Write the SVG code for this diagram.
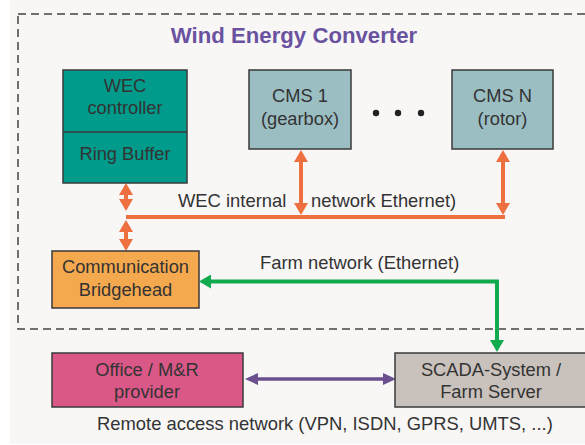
<svg xmlns="http://www.w3.org/2000/svg" width="585" height="445" viewBox="0 0 585 445">
<style>
.box{stroke:#3a3a3a;stroke-width:1.5}
.t{font-family:"Liberation Sans",Arial,sans-serif;font-size:18.3px;fill:#333;text-anchor:middle}
.lbl{font-family:"Liberation Sans",Arial,sans-serif;font-size:18.4px;fill:#333}
.or{stroke:#ee6f3f;stroke-width:4;fill:none}
.gr{stroke:#12aa4f;stroke-width:4;fill:none}
.pu{stroke:#6b4f8f;stroke-width:3.5;fill:none}
</style>
<defs>
<marker id="ao" markerUnits="userSpaceOnUse" markerWidth="14" markerHeight="14" refX="4" refY="7" orient="auto-start-reverse" viewBox="0 0 12 14"><path d="M0,0 L12,7 L0,14 z" fill="#ee6f3f"/></marker>
<marker id="ag" markerUnits="userSpaceOnUse" markerWidth="14" markerHeight="14" refX="4" refY="7" orient="auto-start-reverse" viewBox="0 0 12 14"><path d="M0,0 L12,7 L0,14 z" fill="#12aa4f"/></marker>
<marker id="ap" markerUnits="userSpaceOnUse" markerWidth="14" markerHeight="12" refX="5" refY="6" orient="auto-start-reverse" viewBox="0 0 13 12"><path d="M0,0 L13,6 L0,12 z" fill="#6b4f8f"/></marker>
</defs>
<rect x="10" y="0" width="575" height="444" fill="#f8f7f6"/>
<rect x="18" y="14" width="600" height="315" fill="none" stroke="#444" stroke-width="1.5" stroke-dasharray="8,5"/>
<text x="294" y="43" font-family="'Liberation Sans',Arial,sans-serif" font-size="22.2" font-weight="bold" fill="#6a52a0" text-anchor="middle">Wind Energy Converter</text>

<g id="connectors">
<line class="or" x1="126" y1="191" x2="126" y2="203" marker-start="url(#ao)" marker-end="url(#ao)"/>
<line class="or" x1="126" y1="228" x2="126" y2="243" marker-start="url(#ao)" marker-end="url(#ao)"/>
<line class="or" x1="126" y1="217" x2="505" y2="217"/>
<line class="or" x1="301" y1="158" x2="301" y2="207" marker-start="url(#ao)" marker-end="url(#ao)"/>
<line class="or" x1="503" y1="158" x2="503" y2="207" marker-start="url(#ao)" marker-end="url(#ao)"/>
<path class="gr" d="M207,281.5 H497 V344" marker-start="url(#ag)" marker-end="url(#ag)"/>
<line class="pu" x1="253" y1="379" x2="388" y2="379" marker-start="url(#ap)" marker-end="url(#ap)"/>
</g>

<text class="lbl" x="178" y="207">WEC internal</text>
<text class="lbl" x="311" y="207">network Ethernet)</text>
<text class="lbl" x="260" y="269">Farm network (Ethernet)</text>
<text class="lbl" x="97" y="430">Remote access network (VPN, ISDN, GPRS, UMTS, ...)</text>

<g id="wec">
<rect class="box" x="63" y="70" width="124" height="113" fill="#009b8b"/>
<line x1="63" y1="132" x2="187" y2="132" stroke="#3a3a3a" stroke-width="1.5"/>
<text class="t" x="125" y="92">WEC</text>
<text class="t" x="125" y="114">controller</text>
<text class="t" x="125" y="160">Ring Buffer</text>
</g>
<g id="cms1">
<rect class="box" x="249" y="70" width="102" height="79" fill="#9bbec3"/>
<text class="t" x="300" y="102">CMS 1</text>
<text class="t" x="300" y="125">(gearbox)</text>
</g>
<g id="dots" fill="#222">
<circle cx="376" cy="113" r="3.2"/>
<circle cx="398" cy="113" r="3.2"/>
<circle cx="421" cy="113" r="3.2"/>
</g>
<g id="cmsn">
<rect class="box" x="452" y="70" width="101" height="79" fill="#9bbec3"/>
<text class="t" x="502.5" y="102">CMS N</text>
<text class="t" x="502.5" y="125">(rotor)</text>
</g>
<g id="bridge">
<rect class="box" x="52" y="251" width="147" height="57" fill="#f5a94f"/>
<text class="t" x="125.5" y="273">Communication</text>
<text class="t" x="125.5" y="296">Bridgehead</text>
</g>
<g id="office">
<rect class="box" x="52" y="353" width="191" height="54" fill="#d95887"/>
<text class="t" x="147" y="376">Office / M&amp;R</text>
<text class="t" x="147" y="398">provider</text>
</g>
<g id="scada">
<rect class="box" x="395" y="353" width="200" height="54" fill="#c9c1bb"/>
<text class="t" x="491" y="376">SCADA-System /</text>
<text class="t" x="491" y="398">Farm Server</text>
</g>
</svg>
